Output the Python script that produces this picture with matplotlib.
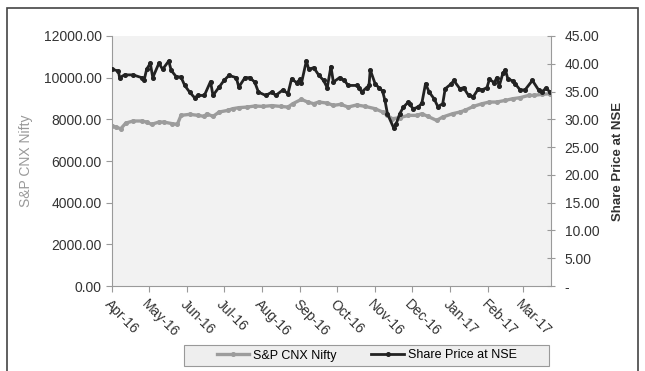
import numpy as np
import pandas as pd
import matplotlib
matplotlib.use('Agg')
import matplotlib.pyplot as plt
import matplotlib.dates as mdates
from matplotlib.patches import Rectangle
from matplotlib.ticker import FuncFormatter, MultipleLocator

plt.rcParams['font.family'] = ['Liberation Sans', 'DejaVu Sans']

# S&P CNX Nifty (left axis)
nifty_dates = ['2016-04-01', '2016-04-04', '2016-04-08', '2016-04-12', '2016-04-18',
               '2016-04-25', '2016-04-29', '2016-05-03', '2016-05-09', '2016-05-13',
               '2016-05-20', '2016-05-24', '2016-05-27', '2016-06-03', '2016-06-10',
               '2016-06-15', '2016-06-17', '2016-06-22', '2016-06-27', '2016-07-04',
               '2016-07-08', '2016-07-13', '2016-07-20', '2016-07-26', '2016-08-02',
               '2016-08-09', '2016-08-16', '2016-08-22', '2016-08-26', '2016-09-02',
               '2016-09-07', '2016-09-12', '2016-09-16', '2016-09-23', '2016-09-28',
               '2016-10-04', '2016-10-10', '2016-10-17', '2016-10-24', '2016-11-01',
               '2016-11-07', '2016-11-11', '2016-11-15', '2016-11-21', '2016-11-28',
               '2016-12-05', '2016-12-09', '2016-12-14', '2016-12-21', '2016-12-26',
               '2017-01-03', '2017-01-09', '2017-01-13', '2017-01-20', '2017-01-27',
               '2017-02-02', '2017-02-08', '2017-02-15', '2017-02-21', '2017-02-27',
               '2017-03-06', '2017-03-10', '2017-03-17', '2017-03-23']
nifty = [7700, 7620, 7550, 7820, 7920,
         7920, 7870, 7760, 7870, 7870,
         7790, 7760, 8190, 8240, 8190,
         8140, 8270, 8140, 8350, 8430,
         8510, 8560, 8590, 8640, 8620,
         8660, 8620, 8590, 8750, 8960,
         8830, 8750, 8830, 8780, 8670,
         8720, 8590, 8690, 8620, 8510,
         8350, 8190, 8030, 8080, 8190,
         8190, 8270, 8140, 7950, 8110,
         8270, 8350, 8430, 8620, 8750,
         8830, 8830, 8910, 8990, 9040,
         9150, 9150, 9200, 9230]

# Share price at NSE (right axis)
share_dates = ['2016-04-01', '2016-04-06', '2016-04-07', '2016-04-11', '2016-04-18',
               '2016-04-25', '2016-04-27', '2016-04-29', '2016-05-02', '2016-05-04',
               '2016-05-09', '2016-05-12', '2016-05-17', '2016-05-19', '2016-05-23',
               '2016-05-27', '2016-05-30', '2016-06-03', '2016-06-07', '2016-06-10',
               '2016-06-15', '2016-06-20', '2016-06-22', '2016-06-27', '2016-07-01',
               '2016-07-05', '2016-07-11', '2016-07-13', '2016-07-18', '2016-07-22',
               '2016-07-26', '2016-07-29', '2016-08-04', '2016-08-09', '2016-08-12',
               '2016-08-18', '2016-08-22', '2016-08-25', '2016-08-29', '2016-09-01',
               '2016-09-02', '2016-09-06', '2016-09-08', '2016-09-12', '2016-09-16',
               '2016-09-20', '2016-09-23', '2016-09-26', '2016-09-28', '2016-10-03',
               '2016-10-07', '2016-10-10', '2016-10-17', '2016-10-19', '2016-10-21',
               '2016-10-25', '2016-10-27', '2016-10-28', '2016-11-01', '2016-11-04',
               '2016-11-07', '2016-11-09', '2016-11-11', '2016-11-16', '2016-11-18',
               '2016-11-21', '2016-11-24', '2016-11-28', '2016-11-29', '2016-12-02',
               '2016-12-06', '2016-12-09', '2016-12-12', '2016-12-15', '2016-12-19',
               '2016-12-22', '2016-12-26', '2016-12-28', '2017-01-02', '2017-01-04',
               '2017-01-09', '2017-01-12', '2017-01-16', '2017-01-20', '2017-01-24',
               '2017-01-27', '2017-01-31', '2017-02-02', '2017-02-06', '2017-02-08',
               '2017-02-10', '2017-02-13', '2017-02-15', '2017-02-17', '2017-02-21',
               '2017-02-23', '2017-02-27', '2017-03-03', '2017-03-09', '2017-03-14',
               '2017-03-17', '2017-03-20', '2017-03-23']
share = [39.0, 38.7, 37.5, 38.0, 38.0,
         37.5, 37.1, 39.0, 40.1, 37.5,
         40.1, 39.0, 40.5, 38.8, 37.7,
         37.6, 36.1, 34.9, 33.9, 34.3,
         34.3, 36.8, 34.3, 35.8, 37.0,
         37.9, 37.5, 35.8, 37.5, 37.5,
         36.7, 34.9, 34.3, 34.9, 34.3,
         35.3, 34.6, 37.3, 36.6, 37.2,
         36.5, 40.5, 39.0, 39.3, 38.0,
         37.0, 35.7, 39.5, 36.7, 37.5,
         37.0, 36.1, 36.1, 35.7, 34.9,
         35.7, 36.1, 38.9, 36.4, 35.7,
         35.1, 33.4, 31.0, 28.5, 29.1,
         31.0, 32.2, 33.1, 32.7, 31.9,
         32.2, 32.9, 36.4, 34.9, 33.7,
         32.3, 32.8, 35.5, 36.4, 37.0,
         35.5, 35.7, 34.3, 34.1, 35.5,
         35.3, 35.7, 37.2, 36.6, 37.5,
         36.0, 38.3, 38.9, 37.3, 36.9,
         36.4, 35.3, 35.3, 37.0, 35.3,
         35.0, 35.6, 35.0]

nifty_x = pd.to_datetime(nifty_dates)
share_x = pd.to_datetime(share_dates)

fig = plt.figure(figsize=(6.45, 3.71), dpi=100)
ax = fig.add_axes([0.174, 0.229, 0.680, 0.674])
ax2 = ax.twinx()

ax.set_facecolor('#f2f2f2')
ax.plot(nifty_x, nifty, color='#9c9c9c', lw=2.4, marker='o', ms=2.6, label='S&P CNX Nifty')
ax2.plot(share_x, share, color='#222222', lw=2.0, marker='o', ms=2.6, label='Share Price at NSE')

ax.set_ylim(0, 12000)
ax.yaxis.set_major_locator(MultipleLocator(2000))
ax.yaxis.set_major_formatter(FuncFormatter(lambda v, p: '%.2f' % v))
ax2.set_ylim(0, 45)
ax2.yaxis.set_major_locator(MultipleLocator(5))
ax2.yaxis.set_major_formatter(FuncFormatter(lambda v, p: '-' if v == 0 else '%.2f' % v))

ax.set_xlim(pd.Timestamp('2016-04-01'), pd.Timestamp('2017-03-24'))
ax.xaxis.set_major_locator(mdates.MonthLocator())
ax.xaxis.set_major_formatter(mdates.DateFormatter('%b-%y'))
for lab in ax.get_xticklabels():
    lab.set_rotation(-45)
    lab.set_ha('left')
    lab.set_va('top')
    lab.set_rotation_mode('anchor')

for a in (ax, ax2):
    for s in a.spines.values():
        s.set_visible(False)
ax.spines['left'].set_visible(True)
ax.spines['bottom'].set_visible(True)
ax2.spines['right'].set_visible(True)
for s in ('left', 'bottom'):
    ax.spines[s].set_color('#9a9a9a')
ax2.spines['right'].set_color('#9a9a9a')

ax.tick_params(axis='both', colors='#9a9a9a', labelcolor='#333333', labelsize=10, length=4, width=0.8)
ax.tick_params(axis='x', pad=4)
ax2.tick_params(axis='y', direction='inout', colors='#9a9a9a', labelcolor='#333333',
                labelsize=10, length=6, width=0.8, pad=7)

ax.set_ylabel('S&P CNX Nifty', color='#999999', fontsize=10, labelpad=8)
ax2.set_ylabel('Share Price at NSE', color='#333333', fontsize=9.5, fontweight='bold', labelpad=9)

# legend box drawn separately, entries centred inside it
fig.add_artist(Rectangle((184 / 645, 1 - 366 / 371), 365 / 645, 21 / 371, transform=fig.transFigure,
                         facecolor='#eeeeee', edgecolor='#999999', lw=0.8))
h1, l1 = ax.get_legend_handles_labels()
h2, l2 = ax2.get_legend_handles_labels()
fig.legend(h1 + h2, l1 + l2, ncol=2, fontsize=9, loc='center',
           bbox_to_anchor=(366.5 / 645, 1 - 355.5 / 371), frameon=False,
           handlelength=2.6, handletextpad=0.3, columnspacing=2.8)

fig.add_artist(Rectangle((7 / 645, -0.01), 631 / 645, 1.01 - 8 / 371, transform=fig.transFigure,
                         fill=False, edgecolor='#444444', lw=1.2))

fig.savefig('out.png', dpi=100)
